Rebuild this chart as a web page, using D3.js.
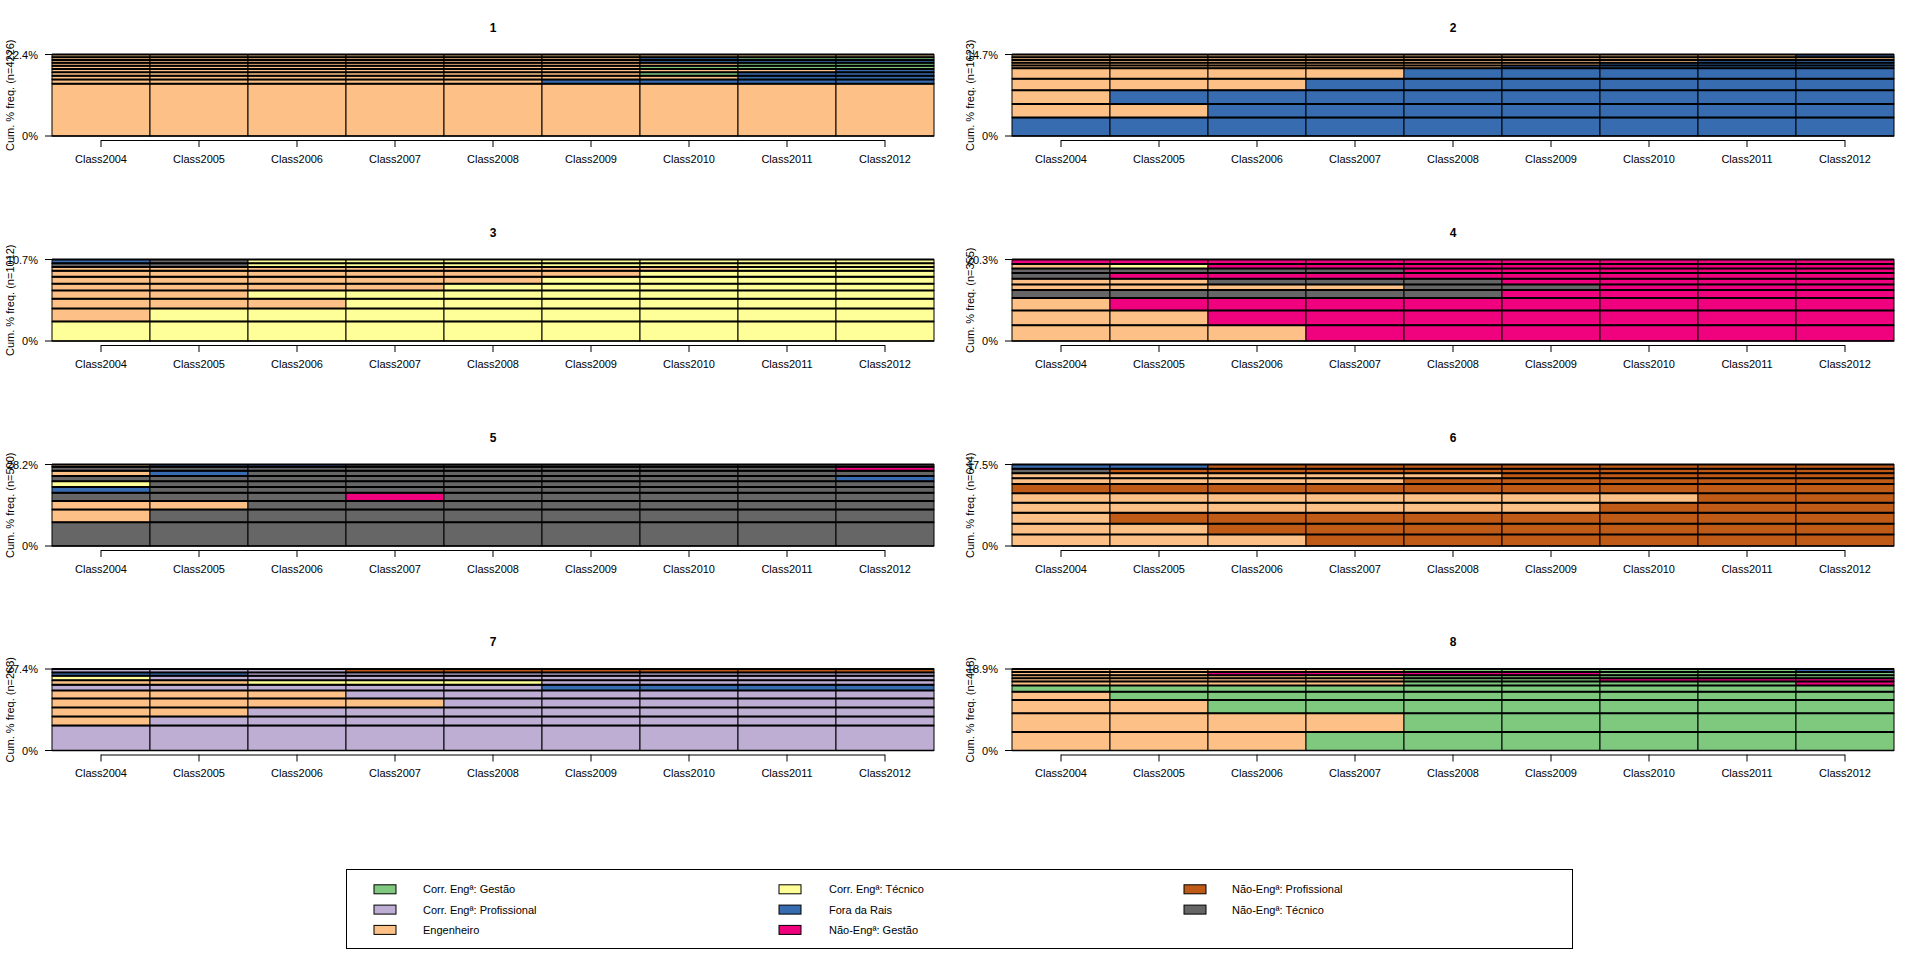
<!DOCTYPE html>
<html>
<head>
<meta charset="utf-8">
<script src="https://cdn.jsdelivr.net/npm/d3@7"></script>
<style>
  html, body { margin: 0; padding: 0; background: #ffffff; }
  svg { display: block; font-family: "Liberation Sans", Arial, Helvetica, sans-serif; }
</style>
</head>
<body>
<svg id="chart" width="1920" height="962"></svg>
<script>
// ---------- DATA ----------
const stateCodes  = ["CG", "CP", "E", "T", "FR", "NG", "NP", "NT"];
const stateLabels = ["Corr. Engª: Gestão", "Corr. Engª: Profissional", "Engenheiro",
                     "Corr. Engª: Técnico", "Fora da Rais", "Não-Engª: Gestão",
                     "Não-Engª: Profissional", "Não-Engª: Técnico"];
const stateColors = ["#7FC97F", "#BEAED4", "#FDC086", "#FFFF99", "#386CB0", "#F0027F", "#BF5B17", "#666666"];

const periods = ["Class2004", "Class2005", "Class2006", "Class2007", "Class2008",
                 "Class2009", "Class2010", "Class2011", "Class2012"];

const clusterNames = ["1", "2", "3", "4", "5", "6", "7", "8"];
const clusterN     = [4226, 1623, 1012, 355, 500, 644, 263, 418];

// 10 most frequent sequences per cluster (bottom to top) and their counts
const seqs1 = ["E E E E E E E E E", "E E E E E FR FR FR FR", "E E E E E E E FR FR", "E E E E E E CG FR FR",
               "E E E E E E E E FR", "E E E E E E CG CG CG", "E E E E E E E CG CG", "E E E E E E FR FR FR",
               "E E E E E E FR CG CG", "E E E E E E E E E"];
const freq1 = [608, 48, 43, 41, 38, 37, 35, 34, 32, 31];

const seqs2 = ["FR FR FR FR FR FR FR FR FR", "E E FR FR FR FR FR FR FR", "E FR FR FR FR FR FR FR FR",
               "E E E FR FR FR FR FR FR", "E E E E FR FR FR FR FR", "E E E E E FR FR FR FR",
               "E E E E E E FR FR FR", "E E E E E E E FR FR", "E E E E E E E E E", "E E E E E E E E FR"];
const freq2 = [54, 40, 40, 34, 31, 8, 8, 8, 8, 8];

const seqs3 = ["T T T T T T T T T", "E T T T T T T T T", "E E E T T T T T T", "E E T T T T T T T",
               "E E E E T T T T T", "E E E E E T T T T", "E E E E E E T T T", "E E E E E E E T T",
               "NT NT T T T T T T T", "FR NT T T T T T T T"];
const freq3 = [26, 17, 13, 11, 9, 9, 8, 5, 5, 5];

const seqs4 = ["E E E NG NG NG NG NG NG", "E E NG NG NG NG NG NG NG", "E NG NG NG NG NG NG NG NG",
               "NT NT NT NT NT NG NG NG NG", "E E E E NT NT NG NG NG", "E E NT NT NT NG NG NG NG",
               "NT NG NG NG NG NG NG NG NG", "NT NT NT NT NG NG NG NG NG", "E T NG NG NG NG NG NG NG",
               "NG NG NG NG NG NG NG NG NG"];
const freq4 = [14, 13, 11, 7, 5, 5, 5, 4, 4, 4];

const seqs5 = ["NT NT NT NT NT NT NT NT NT", "E NT NT NT NT NT NT NT NT", "E E NT NT NT NT NT NT NT",
               "NT NT NT NG NT NT NT NT NT", "FR NT NT NT NT NT NT NT NT", "T NT NT NT NT NT NT NT NT",
               "NT NT NT NT NT NT NT NT FR", "E FR NT NT NT NT NT NT NT", "NT NT NT NT NT NT NT NT NG",
               "E FR FR NT NT NT NT NT NT"];
const freq5 = [41, 22, 15, 14, 10, 10, 9, 9, 7, 4];

const seqs6 = ["E E E NP NP NP NP NP NP", "E E NP NP NP NP NP NP NP", "E NP NP NP NP NP NP NP NP",
               "E E E E E E NP NP NP", "E E E E E E E NP NP", "NP NP NP NP NP NP NP NP NP",
               "E E E E NP NP NP NP NP", "E E E E E NP NP NP NP", "NT NP NP NP NP NP NP NP NP",
               "FR FR NP NP NP NP NP NP NP"];
const freq6 = [16, 15, 15, 14, 13, 13, 8, 7, 6, 6];

const seqs7 = ["CP CP CP CP CP CP CP CP CP", "E CP CP CP CP CP CP CP CP", "E E CP CP CP CP CP CP CP",
               "E E E E CP CP CP CP CP", "E E E CP CP CP CP CP CP", "CP CP CP CP CP FR FR FR FR",
               "E E T T T CP CP CP CP", "T CP CP CP CP CP CP CP CP", "FR FR CP CP CP CP CP CP CP",
               "CP CP CP NP NP NP NP NP NP"];
const freq7 = [22, 8, 8, 8, 7, 5, 4, 4, 3, 3];

const seqs8 = ["E E E CG CG CG CG CG CG", "E E E E CG CG CG CG CG", "E E CG CG CG CG CG CG CG",
               "E CG CG CG CG CG CG CG CG", "CG CG CG CG CG CG CG CG CG", "E E E E CG CG CG CG NG",
               "E E E E CG CG NG NG NG", "E E E T CG CG CG CG CG", "E E NG NG NG NG CG CG CG",
               "E E E E CG CG CG CG FR"];
const freq8 = [18, 18, 13, 8, 6, 4, 3, 3, 3, 3];

const allSeqs  = [seqs1, seqs2, seqs3, seqs4, seqs5, seqs6, seqs7, seqs8];
const allFreqs = [freq1, freq2, freq3, freq4, freq5, freq6, freq7, freq8];

// ---------- LAYOUT ----------
const svg = d3.select("#chart");
const panelLeft = [52, 1012];
const panelWidth = 882;
const panelTop = [54.5, 259.5, 464.5, 669];
const panelHeight = 81.5;
const font = 11;

const color = d3.scaleOrdinal().domain(stateCodes).range(stateColors);

clusterNames.forEach((name, k) => {
  const col = k % 2, row = Math.floor(k / 2);
  const x0 = panelLeft[col], y0 = panelTop[row];
  const n = clusterN[k];
  const seqs = allSeqs[k].map(s => s.split(" "));
  const pct = allFreqs[k].map(f => f / n * 100);
  const total = d3.sum(pct);

  const x = d3.scaleBand().domain(periods).range([x0, x0 + panelWidth]).padding(0);
  const y = d3.scaleLinear().domain([0, total]).range([y0 + panelHeight, y0]);

  const g = svg.append("g");

  // title
  g.append("text")
    .attr("x", x0 + panelWidth / 2).attr("y", y0 - 27)
    .attr("text-anchor", "middle").attr("dominant-baseline", "central")
    .attr("font-size", 12).attr("font-weight", "bold")
    .text(name);

  // bars
  let cum = 0;
  const rows = seqs.map((s, i) => {
    const r = { seq: s, b: cum, t: cum + pct[i] };
    cum += pct[i];
    return r;
  });

  rows.forEach(r => {
    g.append("g").selectAll("rect")
      .data(r.seq.map((st, j) => ({ st, p: periods[j] })))
      .join("rect")
      .attr("x", d => x(d.p))
      .attr("y", y(r.t))
      .attr("width", x.bandwidth())
      .attr("height", Math.max(0.1, y(r.b) - y(r.t)))
      .attr("fill", d => color(d.st))
      .attr("stroke", "#000")
      .attr("stroke-width", 1);
  });
  // row separators (thicker, as in reference)
  g.selectAll("line.sep")
    .data(rows)
    .join("line")
    .attr("class", "sep")
    .attr("x1", x0).attr("x2", x0 + panelWidth)
    .attr("y1", d => y(d.t)).attr("y2", d => y(d.t))
    .attr("stroke", "#000").attr("stroke-width", 2);
  g.append("line")
    .attr("x1", x0).attr("x2", x0 + panelWidth)
    .attr("y1", y(0)).attr("y2", y(0))
    .attr("stroke", "#000").attr("stroke-width", 1.5);

  // x axis
  const axisY = y0 + panelHeight + 4;
  const ax = g.append("g")
    .attr("transform", `translate(0,${axisY})`)
    .call(d3.axisBottom(x).tickSize(7).tickPadding(8).tickSizeOuter(0));
  ax.select(".domain").remove();
  ax.selectAll("text").attr("font-size", font).attr("font-family", null);
  ax.selectAll("line").attr("stroke", "#000");
  ax.append("line")
    .attr("x1", x(periods[0]) + x.bandwidth() / 2)
    .attr("x2", x(periods[periods.length - 1]) + x.bandwidth() / 2)
    .attr("y1", 0.5).attr("y2", 0.5)
    .attr("stroke", "#000");

  // y axis: ticks + labels at 0% and cumulative %
  const yLabels = [{ v: 0, t: "0%" }, { v: total, t: total.toFixed(1) + "%" }];
  g.selectAll("line.ytick")
    .data(yLabels)
    .join("line")
    .attr("class", "ytick")
    .attr("x1", x0 - 7).attr("x2", x0)
    .attr("y1", d => y(d.v)).attr("y2", d => y(d.v))
    .attr("stroke", "#000").attr("stroke-width", 1);
  g.selectAll("text.ylab")
    .data(yLabels)
    .join("text")
    .attr("class", "ylab")
    .attr("x", x0 - 14).attr("y", d => y(d.v))
    .attr("text-anchor", "end").attr("dominant-baseline", "central")
    .attr("font-size", font)
    .text(d => d.t);

  // y title
  g.append("text")
    .attr("transform", `translate(${x0 - 42},${y0 + panelHeight / 2}) rotate(-90)`)
    .attr("text-anchor", "middle").attr("dominant-baseline", "central")
    .attr("font-size", font)
    .text(`Cum. % freq. (n=${n})`);
});

// ---------- LEGEND ----------
const legend = svg.append("g");
legend.append("rect")
  .attr("x", 346.5).attr("y", 869.5).attr("width", 1226).attr("height", 79)
  .attr("fill", "none").attr("stroke", "#000").attr("stroke-width", 1);

const legSwatchX = [374, 779, 1184];
const legTextX = [423, 829, 1232];
const legRowY = [889.3, 909.6, 929.9];
stateLabels.forEach((lab, i) => {
  const c = Math.floor(i / 3), r = i % 3;
  legend.append("rect")
    .attr("x", legSwatchX[c]).attr("y", legRowY[r] - 4.5)
    .attr("width", 22).attr("height", 9)
    .attr("fill", stateColors[i]).attr("stroke", "#000").attr("stroke-width", 1);
  legend.append("text")
    .attr("x", legTextX[c]).attr("y", legRowY[r])
    .attr("dominant-baseline", "central").attr("font-size", font)
    .text(lab);
});
</script>
</body>
</html>
